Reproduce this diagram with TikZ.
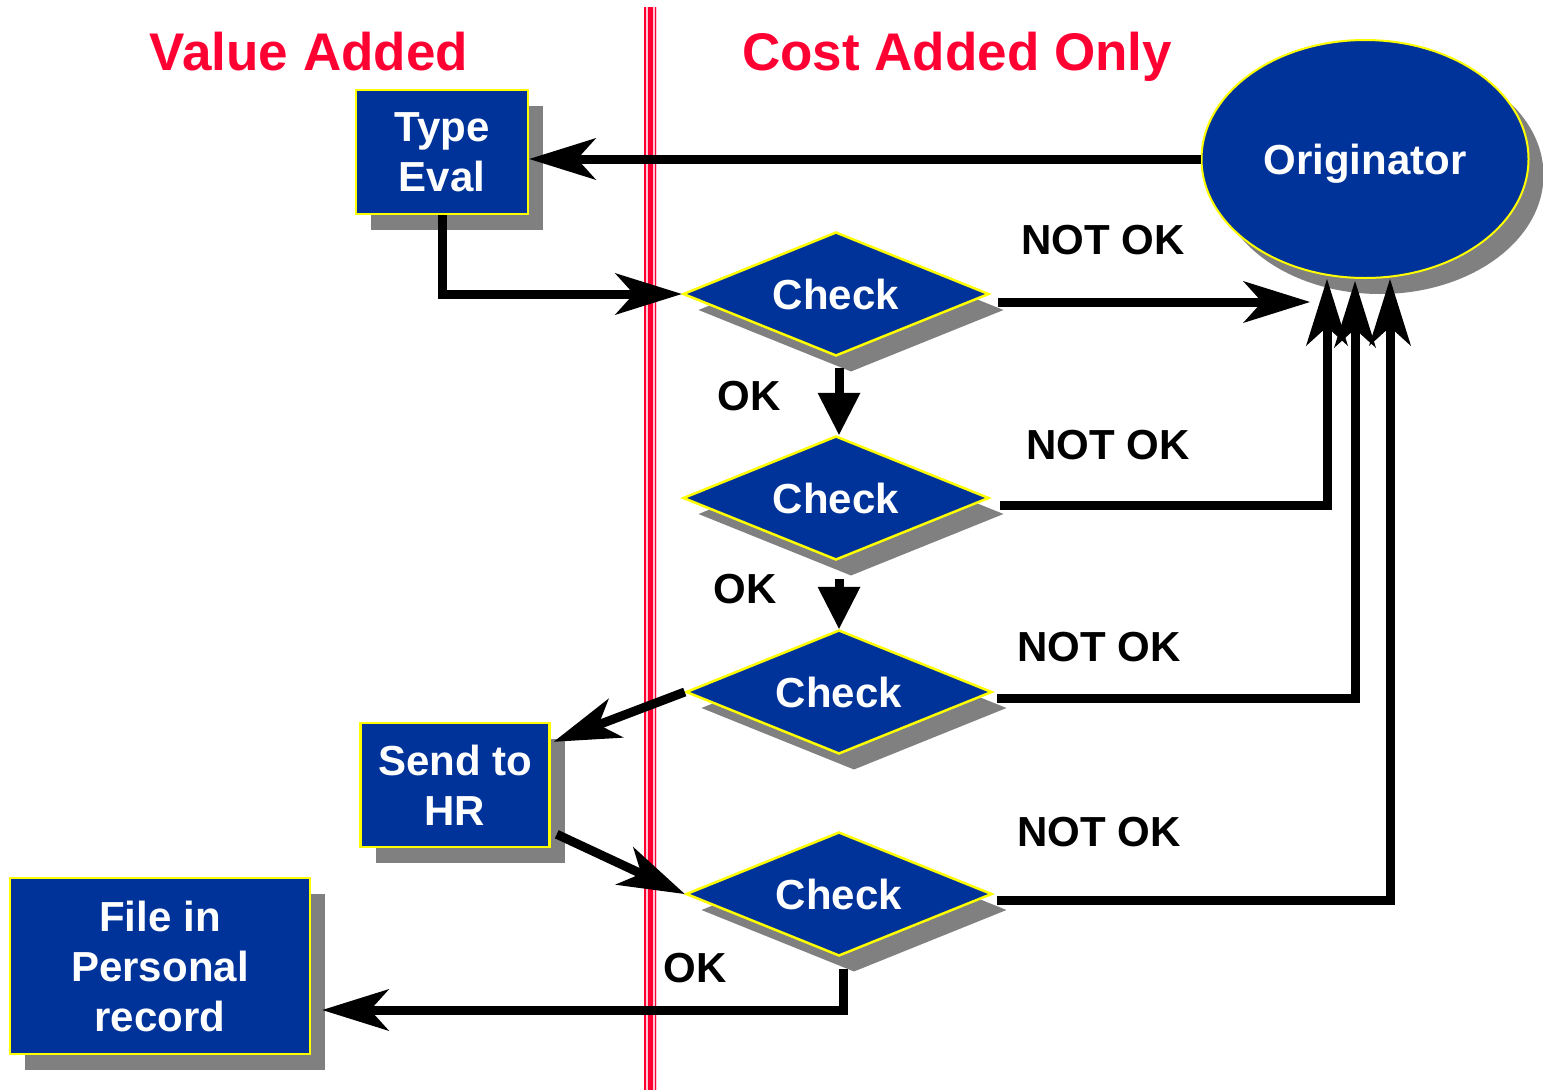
\documentclass[tikz,border=0pt]{standalone}
\usepackage{fontspec}
\setmainfont{Liberation Sans}
\usetikzlibrary{arrows.meta,shapes.geometric,shadows,calc}
\definecolor{boxblue}{RGB}{0,51,153}
\definecolor{rimyellow}{RGB}{255,255,0}
\definecolor{shadegray}{RGB}{128,128,128}
\definecolor{titlered}{RGB}{255,0,51}
\definecolor{stripepink}{RGB}{255,200,212}

\begin{document}
\begin{tikzpicture}[x=1pt,y=-1pt,
  shade/.style={general shadow={fill=shadegray, shadow xshift=15pt, shadow yshift=-16pt}},
  bodyfont/.style={font=\bfseries\fontsize{42}{50}\selectfont},
  block/.style={shade, rectangle, fill=boxblue, draw=rimyellow, line width=2.5pt,
    text=white, bodyfont, align=center, inner sep=0pt},
  decision/.style={shade, diamond, aspect=2.47, fill=boxblue, draw=rimyellow,
    line width=2.5pt, text=white, bodyfont, inner sep=0pt,
    minimum width=306pt, minimum height=124pt},
  source/.style={shade, ellipse, fill=boxblue, draw=rimyellow, line width=2pt,
    text=white, bodyfont, inner sep=0pt, text depth=0pt},
  lbl/.style={bodyfont, text=black, inner sep=0pt},
  title/.style={font=\bfseries\fontsize{53}{60}\selectfont, text=titlered,
    inner sep=0pt, anchor=base},
  barb/.style={line width=9pt, -{Stealth[length=67pt, width=42pt, inset=19pt, line width=0pt]}},
  tri/.style={line width=9pt, -{Triangle[length=42pt, width=43pt, line width=0pt]}}
]
\useasboundingbox (0,0) rectangle (1543,1090);

% dividing band between the two zones
\fill[stripepink] (643.5,7) rectangle (656.5,1090);
\fill[titlered] (644,7) rectangle (645.6,1090);
\fill[titlered] (647.8,7) rectangle (652.8,1090);
\fill[titlered] (654.5,7) rectangle (656.1,1090);

% headings
\node[title] (hva) at (309,70) {Value Added};
\node[title] (hca) at (957,70) {Cost Added Only};

% process steps
\node[block, minimum width=172pt, minimum height=124pt] (teval) at (442,152) {Type\\Eval};
\node[source, minimum width=327pt, minimum height=238pt] (orig) at (1365,159) {Originator};
\node[decision] (c1) at (836,294) {Check};
\node[decision] (c2) at (836,498) {Check};
\node[decision] (c3) at (839,692) {Check};
\node[decision] (c4) at (839,894) {Check};
\node[block, minimum width=189pt, minimum height=124pt] (hr) at (455,785) {Send to\\HR};
\node[block, minimum width=300pt, minimum height=176pt] (file) at (160,966) {File in\\Personal\\record};

% outcome labels
\node[lbl] (nok1) at (1103,240) {NOT OK};
\node[lbl] (nok2) at (1108,445) {NOT OK};
\node[lbl] (nok3) at (1099,647) {NOT OK};
\node[lbl] (nok4) at (1099,832) {NOT OK};
\node[lbl] (ok1) at (749,396) {OK};
\node[lbl] (ok2) at (745,589) {OK};
\node[lbl] (ok3) at (695,968) {OK};

% flow
\draw[barb] (orig.west) -- (orig.west -| teval.east);
\draw[barb] (teval.south) |- (c1.west);
\coordinate (n1) at (1310,302);
\draw[barb] ($(c1.east |- n1)+(8,0)$) -- (n1);
\draw[barb] ($(c2.east)+(10,7)$) -| ($(orig.south)+(-38,0)$);
\draw[barb] ($(c3.east)+(4,6)$) -| ($(orig.south)+(-10,2)$);
\draw[barb] ($(c4.east)+(4,6)$) -| ($(orig.south)+(25,0)$);
\draw[tri] ($(c1.south)+(3,11)$) -- ($(c2.north)+(3,0)$);
\draw[tri] ($(c2.south)+(3,18)$) -- (c3.north);
\draw[barb] (c3.west) -- ($(hr.north east)+(3,20)$);
\draw[barb] ($(hr.south east)+(6,-14)$) -- (c4.west);
\coordinate (fin) at ($(file.east)+(11,44)$);
\draw[barb] ($(c4.south)+(4,12)$) |- (fin);
\end{tikzpicture}
\end{document}
